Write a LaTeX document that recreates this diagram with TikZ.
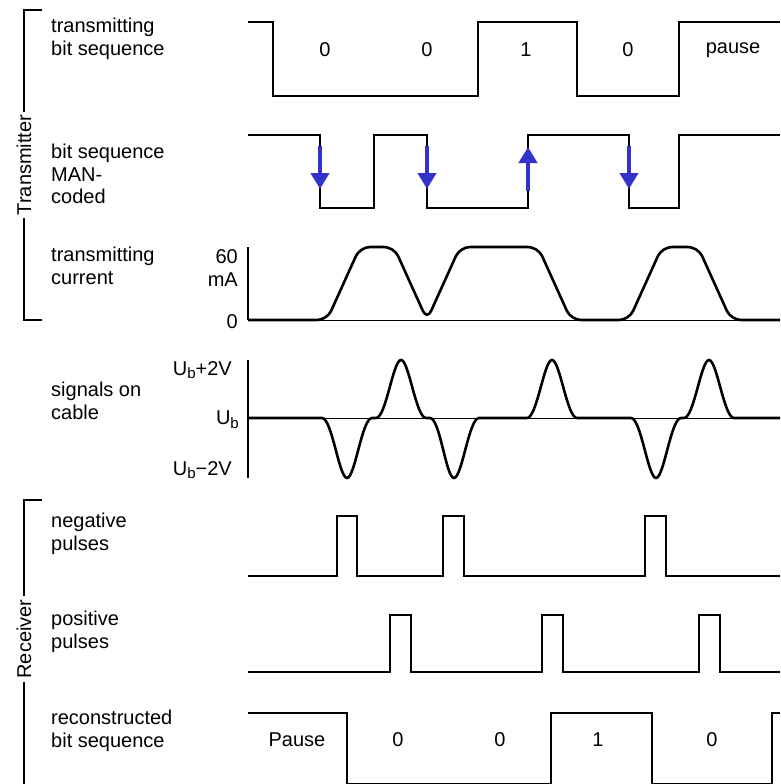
\documentclass[tikz,border=0pt]{standalone}
\usepackage{fontspec}
\setmainfont{Liberation Sans}
\usetikzlibrary{arrows.meta}
\definecolor{manblue}{RGB}{51,51,204}
\newcommand{\ub}{U\raisebox{-0.35ex}{\fontsize{15}{15}\selectfont b}}
\begin{document}
\begin{tikzpicture}[x=1pt,y=-1pt,
	every node/.style={font=\fontsize{20}{22.5}\selectfont, inner sep=0pt},
	wave/.style={line width=2.6pt},
	axis/.style={line width=1.4pt},
	zero/.style={line width=0.8pt},
	bracket/.style={line width=1.6pt},
	lbl/.style={anchor=west, align=left},
	unit/.style={anchor=east, align=right},
	flip/.style={-{Triangle[width=18pt,length=16pt]}, line width=4.5pt, manblue}]
	\useasboundingbox (0,0) rectangle (780,784);

	\node [rotate=90, inner sep=3pt] (tx) at (24,165) {Transmitter};
	\draw [bracket] (42,10) -- (24,10) -- (tx.east) (tx.west) -- (24,320) -- (42,320);
	\node [rotate=90, inner sep=3pt] (rx) at (24,639) {Receiver};
	\draw [bracket] (42,500) -- (24,500) -- (rx.east) (rx.west) -- (24,790);

	\node [lbl] (l1) at (51,39) {transmitting\\bit sequence};
	\node [lbl] (l2) at (51,174) {bit sequence\\MAN-\\coded};
	\node [lbl] (l3) at (51,266) {transmitting\\current};
	\node [lbl] (l4) at (51,401) {signals on\\cable};
	\node [lbl] (l5) at (51,534) {negative\\pulses};
	\node [lbl] (l6) at (51,632) {positive\\pulses};
	\node [lbl] (l7) at (51,731) {reconstructed\\bit sequence};

	\draw [wave] (248,22) -- (273,22) -- (273,96) -- (478,96) -- (478,22) -- (577,22) -- (577,96) -- (679,96) -- (679,22) -- (780,22);
	\node (b1) at (325,50) {0};
	\node (b2) at (427,50) {0};
	\node (b3) at (526,50) {1};
	\node (b4) at (628,50) {0};
	\node (b5) at (733,50) {pause};

	\draw [wave] (248,135) -- (320,135) -- (320,208) -- (374,208) -- (374,135) -- (427,135) -- (427,208) -- (528,208) -- (528,135) -- (629,135) -- (629,208) -- (679,208) -- (679,135) -- (780,135);
	\draw [flip] (320,146) -- (320,189);
	\draw [flip] (427,146) -- (427,189);
	\draw [flip] (528,191) -- (528,147);
	\draw [flip] (629,146) -- (629,189);

	\node [unit] (ma) at (238,268) {60\\mA};
	\node [unit] (m0) at (238,322) {0};
	\draw [axis] (248,247) -- (248,320);
	\draw [zero] (248,320) -- (780,320);
	\draw [wave, rounded corners=10pt] (248,320) -- (327,320) -- (360,247) -- (394,247) -- (427,320) -- (460,247) -- (538,247) -- (571,320) -- (629,320) -- (662,247) -- (698,247) -- (731,320) -- (780,320);

	\node [unit] (up) at (232,370) {\ub+2V};
	\node [unit] (u0) at (239,420) {\ub};
	\node [unit] (dn) at (232,470) {\ub−2V};
	\draw [axis] (248,360) -- (248,478);
	\draw [zero] (248,418) -- (780,418);
	\draw [wave] (248,418) -- (322,418)
		.. controls (332,418) and (339,478) .. (347,478) .. controls (355,478) and (362,418) .. (372,418) -- (376,418)
		.. controls (386,418) and (393,360) .. (401,360) .. controls (409,360) and (416,418) .. (426,418) -- (430,418)
		.. controls (440,418) and (446,478) .. (454,478) .. controls (462,478) and (469,418) .. (479,418) -- (527,418)
		.. controls (537,418) and (544,360) .. (552,360) .. controls (560,360) and (567,418) .. (577,418) -- (631,418)
		.. controls (641,418) and (648,478) .. (656,478) .. controls (664,478) and (671,418) .. (681,418) -- (684,418)
		.. controls (694,418) and (701,360) .. (709,360) .. controls (717,360) and (724,418) .. (734,418) -- (780,418);

	\draw [wave] (248,576) -- (337,576) -- (337,516) -- (357,516) -- (357,576) -- (443,576) -- (443,516) -- (464,516) -- (464,576) -- (645,576) -- (645,516) -- (666,516) -- (666,576) -- (780,576);

	\draw [wave] (248,672) -- (390,672) -- (390,615) -- (411,615) -- (411,672) -- (542,672) -- (542,615) -- (563,615) -- (563,672) -- (699,672) -- (699,615) -- (720,615) -- (720,672) -- (780,672);

	\draw [wave] (248,713) -- (347,713) -- (347,784) -- (551,784) -- (551,713) -- (652,713) -- (652,784) -- (772,784) -- (772,713) -- (780,713);
	\node (r1) at (297,740) {Pause};
	\node (r2) at (398,740) {0};
	\node (r3) at (500,740) {0};
	\node (r4) at (598,740) {1};
	\node (r5) at (712,740) {0};
\end{tikzpicture}
\end{document}
